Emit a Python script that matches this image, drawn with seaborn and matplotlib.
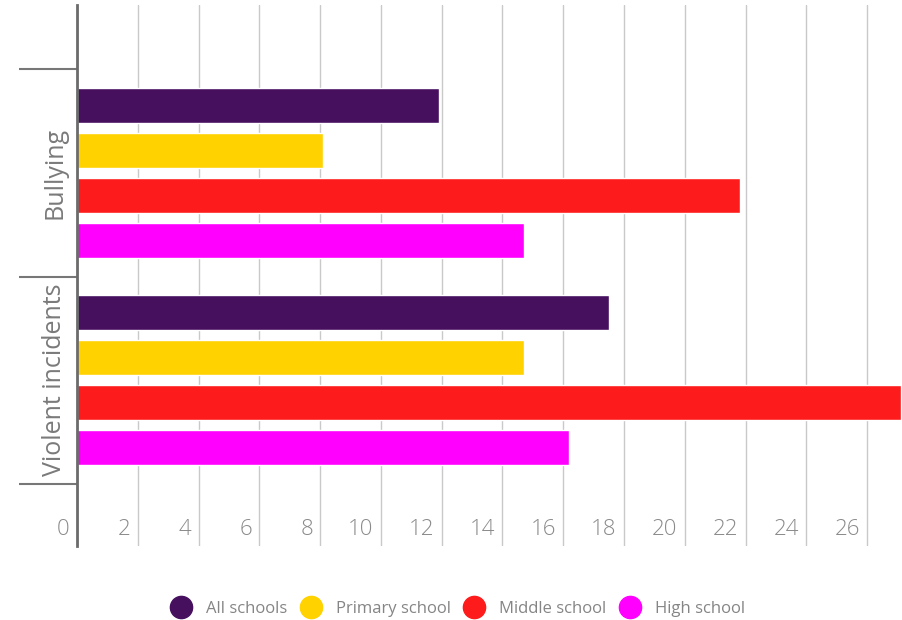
import matplotlib
matplotlib.use("Agg")
import matplotlib.pyplot as plt
import matplotlib.transforms as mtransforms
from matplotlib.lines import Line2D
import numpy as np
import pandas as pd
import seaborn as sns

# Data
categories = ["Bullying", "Violent incidents"]
series = ["All schools", "Primary school", "Middle school", "High school"]
bullying = [11.9, 8.1, 21.8, 14.7]
violent = [17.5, 14.7, 27.1, 16.2]
x_ticks = list(range(0, 27, 2))
colors = ["#46105F", "#FFD200", "#FE1B1B", "#FF00FF"]

rows = []
for cat, vals in zip(categories, [bullying, violent]):
    for s, v in zip(series, vals):
        rows.append({"category": cat, "series": s, "value": v})
df = pd.DataFrame(rows)

sns.set_theme(style="white")
plt.rcParams["font.family"] = ["Open Sans", "DejaVu Sans"]

fig = plt.figure(figsize=(9.03, 6.2), dpi=100)
ax = fig.add_axes([77 / 903, 1 - 546 / 620, 1 - 77 / 903, (546 - 5) / 620])

sns.barplot(
    data=df, x="value", y="category", hue="series", orient="h",
    palette=colors, hue_order=series, order=categories,
    width=0.867, gap=0.22, saturation=1, legend=False, ax=ax,
)

ax.set_xlim(0, 27.18)
ax.set_ylim(1.5 + 62 / 207.5, -0.5 - 64 / 207.5)
ax.set_xlabel("")
ax.set_ylabel("")

# Spines: only the left axis line
for side in ["top", "right", "bottom"]:
    ax.spines[side].set_visible(False)
ax.spines["left"].set_color("#6b6b6b")
ax.spines["left"].set_linewidth(2)

# Vertical grid lines
ax.set_xticks(x_ticks)
ax.xaxis.grid(True, color="#c9c9c9", linewidth=1)
ax.yaxis.grid(False)
ax.set_axisbelow(True)
ax.tick_params(axis="x", length=0, labelbottom=False)

# X tick labels sit inside the plot, to the left of each grid line
lbl_tr = mtransforms.offset_copy(
    mtransforms.blended_transform_factory(ax.transData, ax.transAxes),
    fig=fig, x=-5.2, y=0, units="points")
for t in x_ticks:
    ax.text(t, 0.0205, str(t), transform=lbl_tr, ha="right", va="baseline",
            fontsize=16, color="#8a8a8a", fontweight="light")

# Category labels and band separators
ax.set_yticks([-0.5, 0.5, 1.5], minor=True)
ax.tick_params(axis="y", which="minor", length=41.8, width=1.5,
               color="#777777", left=True)
ax.tick_params(axis="y", which="major", length=0, pad=7)
ax.set_yticklabels(categories, rotation=90, va="center", ha="right",
                   fontsize=18, color="#7a7a7a")

# Legend
handles = [Line2D([0], [0], marker="o", linestyle="", markersize=16,
                  markerfacecolor=c, markeredgecolor=c) for c in colors]
fig.legend(handles, series, loc="center", ncol=4, frameon=False,
           bbox_to_anchor=(458 / 903, 1 - 609 / 620),
           fontsize=12, labelcolor="#858585", handletextpad=0.9,
           columnspacing=0.8, handlelength=1.2)

fig.savefig("out.png", dpi=100)
